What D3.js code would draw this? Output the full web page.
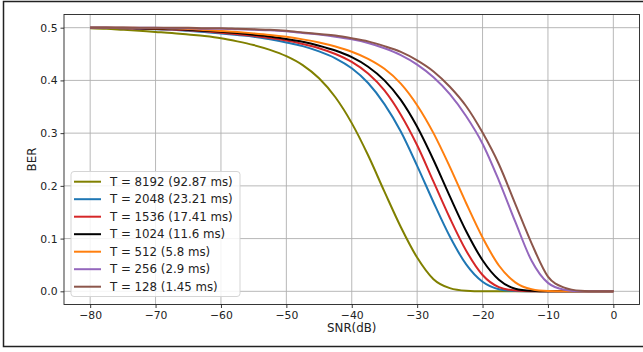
<!DOCTYPE html>
<html>
<head>
<meta charset="utf-8">
<script src="https://cdn.jsdelivr.net/npm/d3@7"></script>
<style>
  html, body { margin: 0; padding: 0; background: #fff; }
  svg { display: block; font-family: "DejaVu Sans", sans-serif; }
</style>
</head>
<body>
<svg id="chart" width="643" height="352"></svg>
<script>
// SNR sample points (dB)
const snr = [-80, -77.5, -75, -72.5, -70, -67.5, -65, -62.5, -60, -57.5, -55, -52.5,
             -50, -47.5, -45, -42.5, -40, -37.5, -35, -32.5, -30, -27.5, -25, -22.5,
             -20, -17.5, -15, -12.5, -10, -7.5, -5, -2.5, 0];

// BER for each window length T
const ber8192 = [.499, .498, .496, .494, .492, .490, .487, .484, .480, .474, .467, .458,
                 .446, .429, .404, .368, .319, .258, .189, .122, .064, .023, .006, .001,
                 0, 0, 0, 0, 0, 0, 0, 0, 0];
const ber2048 = [.5, .5, .499, .498, .497, .496, .494, .492, .489, .486, .483, .478,
                 .472, .465, .455, .442, .423, .395, .355, .303, .238, .169, .104, .051,
                 .018, .004, .0005, 0, 0, 0, 0, 0, 0];
const ber1536 = [.5, .5, .499, .4985, .4975, .4965, .495, .493, .4905, .4877, .4845, .4805,
                 .4755, .469, .461, .450, .435, .413, .381, .335, .277, .208, .139, .077,
                 .031, .008, .0015, 0, 0, 0, 0, 0, 0];
const ber1024 = [.5, .5, .4998, .4988, .4981, .4976, .4962, .4942, .4922, .4898, .4868, .4834,
                 .4786, .4732, .4658, .4566, .444, .426, .400, .363, .312, .249, .180, .114,
                 .059, .022, .005, .001, 0, 0, 0, 0, 0];
const ber512  = [.5, .5, .5, .4995, .499, .4984, .4976, .4958, .4938, .4917, .4892, .4863,
                 .4826, .4778, .4718, .4642, .4544, .441, .422, .394, .353, .300, .236, .167,
                 .102, .049, .017, .004, .0006, 0, 0, 0, 0];
const ber256  = [.5, .5, .5, .5, .5, .499, .499, .498, .498, .497, .496, .495,
                 .493, .490, .487, .483, .478, .471, .461, .448, .430, .406, .374, .332,
                 .280, .210, .132, .058, .016, .003, 0, 0, 0];
const ber128  = [.5, .5, .5, .5, .5, .5, .5, .499, .499, .498, .497, .496,
                 .494, .491, .488, .485, .480, .474, .465, .454, .438, .417, .388, .351,
                 .301, .241, .166, .091, .028, .007, .001, 0, 0];

const seriesLabels = ["T = 8192 (92.87 ms)", "T = 2048 (23.21 ms)", "T = 1536 (17.41 ms)",
                      "T = 1024 (11.6 ms)", "T = 512 (5.8 ms)", "T = 256 (2.9 ms)",
                      "T = 128 (1.45 ms)"];
const seriesColors = ["#808000", "#1f77b4", "#d62728", "#000000", "#ff7f0e", "#9467bd", "#8c564b"];
const seriesValues = [ber8192, ber2048, ber1536, ber1024, ber512, ber256, ber128];

const xTicks = [-80, -70, -60, -50, -40, -30, -20, -10, 0];
const yTicks = [0.0, 0.1, 0.2, 0.3, 0.4, 0.5];

const svg = d3.select("#chart");
const plot = { left: 64, right: 639.5, top: 14.5, bottom: 304.5 };

const x = d3.scaleLinear().domain([-84, 4]).range([plot.left, plot.right]);
const y = d3.scaleLinear().domain([-0.025, 0.525]).range([plot.bottom, plot.top]);

// figure frame
svg.append("rect")
  .attr("x", 3.5).attr("y", 1.5)
  .attr("width", 650).attr("height", 345)
  .attr("fill", "none").attr("stroke", "#222").attr("stroke-width", 1.5);

// grid
const grid = svg.append("g").attr("stroke", "#b0b0b0").attr("stroke-width", 0.9);
grid.selectAll("line.gx").data(xTicks).join("line")
  .attr("x1", d => x(d)).attr("x2", d => x(d))
  .attr("y1", plot.top).attr("y2", plot.bottom);
grid.selectAll("line.gy").data(yTicks).join("line")
  .attr("x1", plot.left).attr("x2", plot.right)
  .attr("y1", d => y(d)).attr("y2", d => y(d));

// curves
svg.append("clipPath").attr("id", "plotclip").append("rect")
  .attr("x", plot.left).attr("y", plot.top)
  .attr("width", plot.right - plot.left).attr("height", plot.bottom - plot.top);

const line = d3.line()
  .x((d, i) => x(snr[i]))
  .y(d => y(d))
  .curve(d3.curveMonotoneX);

svg.append("g").attr("clip-path", "url(#plotclip)")
  .selectAll("path").data(seriesValues).join("path")
  .attr("d", d => line(d))
  .attr("fill", "none")
  .attr("stroke", (d, i) => seriesColors[i])
  .attr("stroke-width", 2)
  .attr("stroke-linejoin", "round");

// axes
const fmtX = d3.format("d");
const xAxis = d3.axisBottom(x).tickValues(xTicks).tickSize(3.5).tickPadding(3)
  .tickFormat(d => fmtX(d));
const yAxis = d3.axisLeft(y).tickValues(yTicks).tickSize(3.5).tickPadding(3)
  .tickFormat(d3.format(".1f"));

const gx = svg.append("g").attr("transform", `translate(0,${plot.bottom})`).call(xAxis);
const gy = svg.append("g").attr("transform", `translate(${plot.left},0)`).call(yAxis);
[gx, gy].forEach(g => {
  g.select(".domain").remove();
  g.selectAll(".tick line").attr("stroke", "#222").attr("stroke-width", 0.9);
  g.selectAll(".tick text").attr("fill", "#222")
    .attr("font-family", "DejaVu Sans").attr("font-size", 10.8);
});

// spines
svg.append("rect")
  .attr("x", plot.left).attr("y", plot.top)
  .attr("width", plot.right - plot.left).attr("height", plot.bottom - plot.top)
  .attr("fill", "none").attr("stroke", "#222").attr("stroke-width", 0.9);

// axis labels
svg.append("text")
  .attr("x", (plot.left + plot.right) / 2).attr("y", 332)
  .attr("text-anchor", "middle").attr("font-size", 11.8).attr("fill", "#222")
  .text("SNR(dB)");
svg.append("text")
  .attr("transform", `translate(36,${(plot.top + plot.bottom) / 2}) rotate(-90)`)
  .attr("text-anchor", "middle").attr("font-size", 11.8).attr("fill", "#222")
  .text("BER");

// legend
const leg = svg.append("g");
leg.append("rect")
  .attr("x", 71).attr("y", 171.5).attr("width", 169).attr("height", 125)
  .attr("rx", 3).attr("fill", "#fff").attr("fill-opacity", 0.85)
  .attr("stroke", "#d0d0d0").attr("stroke-width", 0.9);
const rows = leg.selectAll("g.row").data(seriesLabels).join("g")
  .attr("transform", (d, i) => `translate(0,${181.7 + i * 17.5})`);
rows.append("line")
  .attr("x1", 74).attr("x2", 101).attr("y1", 0).attr("y2", 0)
  .attr("stroke", (d, i) => seriesColors[i]).attr("stroke-width", 2);
rows.append("text")
  .attr("x", 110).attr("y", 0).attr("dy", "0.36em")
  .attr("font-size", 11.8).attr("fill", "#222")
  .text(d => d);
</script>
</body>
</html>
